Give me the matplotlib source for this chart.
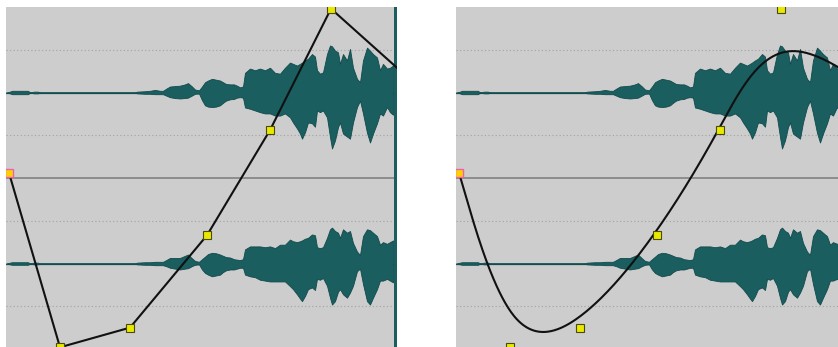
"""
Volume envelope on a stereo clip: linear segments (left) vs spline (right).
"""
import numpy as np
import matplotlib
matplotlib.use('Agg')
import matplotlib.pyplot as plt

#---------------------------------------------------------------------------------------------------
# Data
#---------------------------------------------------------------------------------------------------

# time offset inside the clip (same grid for both channels)
wave_t = [0, 4, 6, 22, 24, 28, 32, 34, 129, 131, 139, 144, 149, 154, 157, 161, 164, 169, 174, 179,
          182, 186, 189, 193, 196, 199, 202, 206, 210, 214, 217, 220, 224, 228, 231, 234, 237, 239,
          244, 249, 254, 259, 264, 269, 274, 279, 284, 287, 291, 294, 296, 299, 302, 306, 309, 311,
          314, 317, 321, 324, 326, 329, 332, 334, 337, 341, 344, 347, 351, 354, 357, 361, 364, 367,
          371, 374, 377, 381, 384, 387]

# channel 1 (top) peak amplitude above / below zero, fraction of full scale
ch1_up = [0, 0.01, 0.02, 0.02, 0, 0.01, 0.01, 0, 0, 0.01, 0.015, 0.02, 0.03, 0.02, 0.02, 0.05, 0.07,
          0.075, 0.08, 0.095, 0.11, 0.07, 0.035, 0.025, 0.07, 0.12, 0.14, 0.16, 0.15, 0.14, 0.12, 0.10,
          0.095, 0.095, 0.08, 0.06, 0.07, 0.23, 0.28, 0.26, 0.28, 0.26, 0.29, 0.23, 0.22, 0.29, 0.35,
          0.335, 0.315, 0.335, 0.35, 0.375, 0.395, 0.45, 0.42, 0.26, 0.22, 0.235, 0.45, 0.55, 0.54,
          0.49, 0.47, 0.335, 0.45, 0.375, 0.51, 0.29, 0.16, 0.12, 0.375, 0.525, 0.49, 0.45, 0.41, 0.26,
          0.335, 0.28, 0.29, 0.315]
ch1_down = [0, 0.01, 0.02, 0.02, 0, 0.01, 0.01, 0, 0, 0.01, 0.015, 0.015, 0.02, 0.02, 0.02, 0.04, 0.055,
            0.065, 0.07, 0.065, 0.06, 0.035, 0.015, 0.012, 0.09, 0.15, 0.165, 0.17, 0.165, 0.15, 0.12,
            0.095, 0.08, 0.075, 0.06, 0.055, 0.06, 0.175, 0.19, 0.21, 0.23, 0.245, 0.245, 0.27, 0.27,
            0.245, 0.29, 0.35, 0.42, 0.48, 0.54, 0.465, 0.35, 0.36, 0.40, 0.21, 0.23, 0.21, 0.29, 0.52,
            0.655, 0.56, 0.405, 0.35, 0.48, 0.515, 0.54, 0.35, 0.17, 0.095, 0.245, 0.47, 0.585, 0.48,
            0.36, 0.245, 0.27, 0.17, 0.23, 0.26]

# channel 2 (bottom)
ch2_up = [0, 0.01, 0.015, 0.015, 0, 0.01, 0.01, 0, 0, 0.01, 0.015, 0.015, 0.02, 0.02, 0.02, 0.045, 0.065,
          0.065, 0.065, 0.09, 0.105, 0.06, 0.03, 0.02, 0.05, 0.08, 0.11, 0.125, 0.12, 0.105, 0.09, 0.075,
          0.07, 0.05, 0.045, 0.04, 0.05, 0.165, 0.20, 0.20, 0.20, 0.19, 0.20, 0.18, 0.22, 0.22, 0.28,
          0.26, 0.25, 0.26, 0.27, 0.29, 0.30, 0.34, 0.33, 0.19, 0.18, 0.19, 0.30, 0.40, 0.42, 0.38, 0.36,
          0.30, 0.40, 0.36, 0.38, 0.24, 0.14, 0.10, 0.32, 0.40, 0.39, 0.36, 0.32, 0.22, 0.25, 0.23, 0.25,
          0.27]
ch2_down = [0, 0.01, 0.015, 0.015, 0, 0.01, 0.01, 0, 0, 0.01, 0.015, 0.015, 0.02, 0.02, 0.02, 0.035, 0.05,
            0.06, 0.07, 0.06, 0.055, 0.03, 0.015, 0.01, 0.07, 0.11, 0.13, 0.15, 0.14, 0.13, 0.10, 0.08,
            0.07, 0.07, 0.06, 0.05, 0.05, 0.13, 0.15, 0.16, 0.19, 0.20, 0.21, 0.21, 0.21, 0.21, 0.265,
            0.30, 0.36, 0.41, 0.44, 0.38, 0.30, 0.28, 0.31, 0.18, 0.19, 0.17, 0.26, 0.40, 0.48, 0.44, 0.33,
            0.30, 0.36, 0.40, 0.34, 0.26, 0.09, 0.06, 0.24, 0.44, 0.48, 0.40, 0.30, 0.20, 0.20, 0.18, 0.20,
            0.22]

# envelope control points (time offset, level); last one lies past the visible range
env_t = [3, 54, 124, 201, 264, 325, 474, 560]
env_v = [0.06, -1.98, -1.75, -0.67, 0.56, 1.98, 0.42, 0.0]

BG = '#cdcdcd'
TEAL = '#1a5e60'
TEAL_EDGE = '#124a4c'
GRID = '#a2a2a2'

#---------------------------------------------------------------------------------------------------
# Helpers
#---------------------------------------------------------------------------------------------------

# Uniform cubic B-spline through the envelope points, first point repeated so it starts there
def bspline(xs, ys, n = 60):
    cx = np.r_[xs[0], xs[0], xs]
    cy = np.r_[ys[0], ys[0], ys]
    t = np.linspace(0, 1, n)
    b0 = (1 - t) ** 3 / 6
    b1 = (3 * t ** 3 - 6 * t ** 2 + 4) / 6
    b2 = (-3 * t ** 3 + 3 * t ** 2 + 3 * t + 1) / 6
    b3 = t ** 3 / 6
    ox, oy = [], []
    for i in range(len(cx) - 3):
        ox.append(b0 * cx[i] + b1 * cx[i + 1] + b2 * cx[i + 2] + b3 * cx[i + 3])
        oy.append(b0 * cy[i] + b1 * cy[i + 1] + b2 * cy[i + 2] + b3 * cy[i + 3])
    return np.concatenate(ox), np.concatenate(oy)


def draw_track(ax, xmax):
    ax.set_facecolor(BG)
    ax.set_xlim(0, xmax)
    ax.set_ylim(-2, 2)
    for s in ax.spines.values():
        s.set_visible(False)
    ax.set_xticks([])
    ax.set_yticks([])

    # dotted 50% lines of each channel
    for yy in [1.5, 0.5, -0.5, -1.5]:
        ax.axhline(yy, color = GRID, lw = 0.8, ls = (0, (1, 2.2)), zorder = 1)
    ax.axhline(0, color = '#7c7c7c', lw = 1.1, zorder = 1)

    t = np.array(wave_t)
    for center, up, down in [(1, ch1_up, ch1_down), (-1, ch2_up, ch2_down)]:
        ax.axhline(center, color = TEAL, lw = 0.9, zorder = 2)
        ax.fill_between(t, center + np.array(up), center - np.array(down),
                        facecolor = TEAL, edgecolor = TEAL_EDGE, lw = 0.6, zorder = 2)


def draw_points(ax):
    ax.plot(env_t[1:], env_v[1:], ls = 'none', marker = 's', ms = 5.8, mfc = '#e8e800',
            mec = '#4a4a10', mew = 0.8, zorder = 5)
    ax.plot(env_t[:1], env_v[:1], ls = 'none', marker = 's', ms = 5.8, mfc = '#ffd000',
            mec = '#f060b0', mew = 1.0, zorder = 5)

#---------------------------------------------------------------------------------------------------
# Figure
#---------------------------------------------------------------------------------------------------

fig = plt.figure(figsize = (8.38, 3.47), dpi = 100)
H = 347.0
W = 838.0

# linear envelope
ax1 = fig.add_axes([6 / W, -2 / H, 391 / W, 342 / H])
draw_track(ax1, 391)
ax1.axvspan(387.5, 391, color = TEAL, lw = 0, zorder = 3)
ax1.plot(env_t, env_v, color = '#111111', lw = 1.5, zorder = 4)
draw_points(ax1)

# spline envelope
ax2 = fig.add_axes([456 / W, -2 / H, 382 / W, 342 / H])
draw_track(ax2, 382)
sx, sy = bspline(env_t, env_v)
ax2.plot(sx, sy, color = '#111111', lw = 1.5, zorder = 4)
draw_points(ax2)

fig.savefig('out.png', dpi = 100)
